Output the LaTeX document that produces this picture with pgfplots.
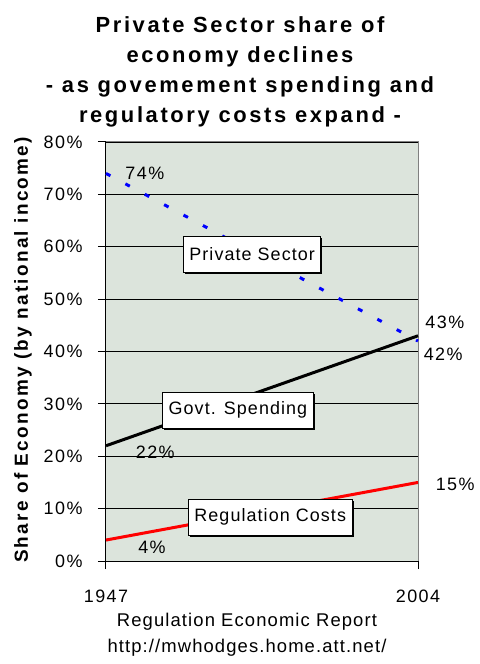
\documentclass[border=0pt]{standalone}
\usepackage{fontspec}
\setmainfont{Liberation Sans}
\newfontfamily\titlefont[LetterSpace=12]{Liberation Sans}
\newfontfamily\txt[LetterSpace=6]{Liberation Sans}
\newfontfamily\numf[LetterSpace=8]{Liberation Sans}
\usepackage{pgfplots}
\pgfplotsset{compat=1.18}
\usetikzlibrary{shadows}
\definecolor{bg}{HTML}{DCE4DC}
\tikzset{
  boxlab/.style={draw=black, fill=white, line width=1bp, inner xsep=6bp, minimum height=36bp,
     font=\fontsize{18}{20}\selectfont\txt, drop shadow={shadow xshift=1.5bp, shadow yshift=-1.5bp, fill=black, opacity=1}},
  numlab/.style={font=\fontsize{18}{20}\selectfont\numf, anchor=center, inner sep=0pt},
}
\begin{document}
\begin{tikzpicture}[x=1bp,y=1bp]
\useasboundingbox (-106,-103) rectangle (374,561);
\begin{axis}[
  at={(0,0)}, anchor=south west,
  scale only axis, width=312bp, height=419bp,
  xmin=1947, xmax=2004, ymin=0, ymax=80,
  clip=false,
  axis background/.style={fill=bg, draw=gray, line width=1bp},
  axis x line*=bottom, axis y line*=left,
  axis line style={black, line width=1bp},
  xtick={1947,2004}, ytick={0,10,...,80},
  tick align=outside, major tick length=8bp,
  tick style={black, line width=1bp},
  ymajorgrids, grid style={black, line width=0.9bp},
  /pgf/number format/assume math mode=true,
  /pgf/number format/1000 sep={},
  yticklabel={\pgfmathprintnumber{\tick}\%},
  ticklabel style={font=\fontsize{18}{20}\selectfont\numf},
  xticklabel style={yshift=-17bp},
  yticklabel style={xshift=-12bp},
]
\addplot[blue, line width=3bp, dash pattern=on 5bp off 17bp] coordinates {(1947,74) (2004,42)};
\addplot[black, line width=3bp] coordinates {(1947,22) (2004,43)};
\addplot[red, line width=3bp] coordinates {(1947,4) (2004,15)};
\draw[gray, line width=1bp] (rel axis cs:0,1) -- (rel axis cs:1,1);
\node[boxlab] at (axis cs:1973.7,58.6) {Private Sector};
\node[boxlab] at (axis cs:1971.1,28.8) {Govt. Spending};
\node[boxlab] at (axis cs:1977.0,8.4) {Regulation Costs};
\node[numlab] at (axis cs:1954.1,74.1) {74\%};
\node[numlab] at (axis cs:2008.9,45.6) {43\%};
\node[numlab] at (axis cs:2008.6,39.5) {42\%};
\node[numlab] at (axis cs:1956.0,20.8) {22\%};
\node[numlab] at (axis cs:1955.4,2.7) {4\%};
\node[numlab] at (axis cs:2010.8,14.7) {15\%};
\end{axis}
\begin{scope}[every node/.style={anchor=base, inner sep=0pt, font=\fontsize{22}{24}\selectfont\titlefont\bfseries}]
\node at (134,528) {Private Sector share of};
\node at (134,498) {economy declines};
\node at (134,468) {- as govemement spending and};
\node at (134,438) {regulatory costs expand -};
\end{scope}
\node[rotate=90, inner sep=0pt, font=\fontsize{19}{21}\selectfont\titlefont\bfseries] at (-83,211) {Share of Economy (by national income)};
\node[inner sep=0pt, font=\fontsize{18.5}{20}\selectfont\txt] at (141,-61) {Regulation Economic Report};
\node[inner sep=0pt, font=\fontsize{18.5}{20}\selectfont\txt] at (141,-87) {http://mwhodges.home.att.net/};
\end{tikzpicture}
\end{document}
